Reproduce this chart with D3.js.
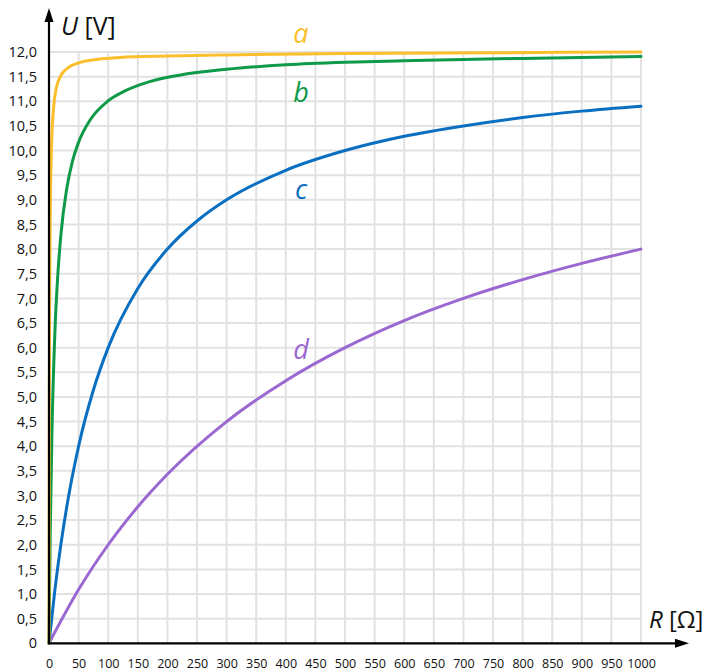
<!DOCTYPE html>
<html>
<head>
<meta charset="utf-8">
<script src="https://cdn.jsdelivr.net/npm/d3@7"></script>
<style>
  html, body { margin: 0; padding: 0; background: #fff; }
  svg { display: block; font-family: "Open Sans", sans-serif; }
</style>
</head>
<body>
<script>
// ---- data ----
const xTicks = [0,50,100,150,200,250,300,350,400,450,500,550,600,650,700,750,800,850,900,950,1000];
const yTicks = [0,0.5,1,1.5,2,2.5,3,3.5,4,4.5,5,5.5,6,6.5,7,7.5,8,8.5,9,9.5,10,10.5,11,11.5,12];

const rA = [0, 0.5, 1, 2, 3, 5, 8, 12, 20, 30, 50, 80, 120, 200, 300, 500, 750, 1000];
const uA = [0, 4.62, 6.67, 8.57, 9.47, 10.34, 10.91, 11.25, 11.52, 11.66, 11.78, 11.85, 11.89, 11.92, 11.94, 11.97, 11.985, 12.0];

const rB = [0, 2, 5, 10, 15, 20, 30, 40, 50, 70, 100, 130, 170, 220, 300, 400, 500, 600, 700, 800, 900, 1000];
const uB = [0, 2.18, 4.29, 6.32, 7.5, 8.28, 9.23, 9.80, 10.17, 10.63, 11.01, 11.22, 11.40, 11.53, 11.65, 11.74, 11.79, 11.82, 11.85, 11.87, 11.89, 11.91];

const rC = [0, 10, 20, 30, 50, 75, 100, 150, 200, 250, 300, 400, 500, 600, 700, 800, 900, 1000];
const uC = [0, 1.09, 2.0, 2.77, 4.0, 5.14, 6.0, 7.2, 8.0, 8.57, 9.0, 9.6, 10.0, 10.29, 10.5, 10.67, 10.8, 10.9];

const rD = [0, 50, 100, 150, 200, 300, 400, 500, 600, 700, 800, 900, 1000];
const uD = [0, 1.09, 2.0, 2.77, 3.43, 4.5, 5.33, 6.0, 6.55, 7.0, 7.38, 7.71, 8.0];

const seriesNames = ["d", "c", "b", "a"];
const seriesColors = ["#9b67d0", "#0a6fc0", "#0f9a48", "#fbbf2e"];
const seriesR = [rD, rC, rB, rA];
const seriesU = [uD, uC, uB, uA];

// ---- drawing ----
const W = 706, H = 672;
const svg = d3.select("body").append("svg").attr("width", W).attr("height", H);

const x = d3.scaleLinear().domain([0, 1000]).range([49, 641]);
const y = d3.scaleLinear().domain([0, 12]).range([643.3, 52]);

// grid
const grid = svg.append("g").attr("stroke", "#e2e2e2").attr("stroke-width", 2);
grid.selectAll("line.v").data(xTicks.filter(d => d > 0)).enter().append("line")
  .attr("x1", d => x(d)).attr("x2", d => x(d)).attr("y1", y(0)).attr("y2", y(12));
grid.selectAll("line.h").data(yTicks.filter(d => d > 0)).enter().append("line")
  .attr("x1", x(0)).attr("x2", x(1000)).attr("y1", d => y(d)).attr("y2", d => y(d));

// axes labels via d3 axes
const fmt = d => d === 0 ? "0" : d3.format(".1f")(d).replace(".", ",");
const yAxis = svg.append("g").attr("transform", `translate(${x(0)},0)`)
  .call(d3.axisLeft(y).tickValues(yTicks).tickFormat(fmt).tickSize(0).tickPadding(12));
yAxis.select(".domain").remove();
yAxis.selectAll("text").attr("font-size", 14.5).attr("fill", "#111").attr("font-family", "Open Sans");

const xAxis = svg.append("g").attr("transform", `translate(0,${y(0)})`)
  .call(d3.axisBottom(x).tickValues(xTicks).tickFormat(d => String(d)).tickSize(0).tickPadding(16));
xAxis.select(".domain").remove();
xAxis.selectAll("text").attr("font-size", 12.5).attr("fill", "#111").attr("font-family", "Open Sans");

// curves
const line = d3.line().curve(d3.curveMonotoneX);
seriesNames.forEach((name, i) => {
  const pts = seriesR[i].map((r, k) => [x(r), y(seriesU[i][k])]);
  svg.append("path").attr("d", line(pts)).attr("fill", "none")
    .attr("stroke", seriesColors[i]).attr("stroke-width", 3).attr("stroke-linecap", "round");
});

// axis lines with arrows
const ax = svg.append("g");
ax.append("line").attr("x1", x(0)).attr("x2", 680).attr("y1", y(0)).attr("y2", y(0))
  .attr("stroke", "#000").attr("stroke-width", 2.2);
ax.append("path").attr("d", `M689,${y(0)} L675,${y(0) - 4.5} L675,${y(0) + 4.5} Z`).attr("fill", "#000");
ax.append("line").attr("x1", x(0)).attr("x2", x(0)).attr("y1", y(0) + 1).attr("y2", 18)
  .attr("stroke", "#000").attr("stroke-width", 2.2);
ax.append("path").attr("d", `M${x(0)},8 L${x(0) - 4.5},22 L${x(0) + 4.5},22 Z`).attr("fill", "#000");

// axis titles
const ty = svg.append("text").attr("x", 61).attr("y", 35).attr("font-size", 25).attr("fill", "#111");
ty.append("tspan").attr("font-style", "italic").text("U");
ty.append("tspan").text(" [V]");
const tx = svg.append("text").attr("x", 649).attr("y", 628).attr("font-size", 24).attr("fill", "#111");
tx.append("tspan").attr("font-style", "italic").text("R");
tx.append("tspan").text(" [Ω]");

// curve letters
const labelY = [359, 199, 102, 43];
seriesNames.forEach((name, i) => {
  svg.append("text").attr("x", 301).attr("y", labelY[i]).attr("text-anchor", "middle")
    .attr("font-size", 27).attr("font-style", "italic").attr("fill", seriesColors[i]).text(name);
});
</script>
</body>
</html>
